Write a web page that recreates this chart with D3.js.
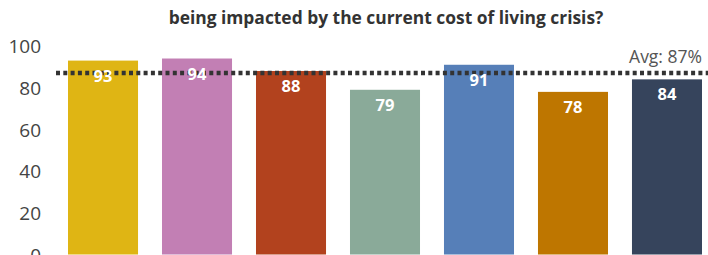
<!DOCTYPE html>
<html>
<head>
<meta charset="utf-8">
<script src="https://cdn.jsdelivr.net/npm/d3@7"></script>
<style>
  body { margin: 0; background: #fff; }
  svg text { font-family: "Open Sans", "Noto Sans", sans-serif; }
</style>
</head>
<body>
<div id="chart"></div>
<script>
var w = 708
var h = 255

// data
var categories = ['A', 'B', 'C', 'D', 'E', 'F', 'G']
var values = [93, 94, 88, 79, 91, 78, 84]
var colors = ['#dfb514', '#c27fb4', '#b2421e', '#8aaa99', '#567fb8', '#be7600', '#36445c']
var yTicks = [0, 20, 40, 60, 80, 100]
var avg = 87
var title = 'being impacted by the current cost of living crisis?'

var svg = d3.select('#chart')
  .append('svg')
  .attr('width', w)
  .attr('height', h)

var x = d3.scaleBand()
  .domain(categories)
  .range([68, 702])
  .paddingInner(0.255)
  .paddingOuter(0)

var y = d3.scaleLinear()
  .domain([0, 100])
  .range([254.5, 46])

// title (top line is cut off in the original)
svg.append('text')
  .attr('x', 386)
  .attr('y', 24)
  .attr('text-anchor', 'middle')
  .style('font-size', '17.4px')
  .style('font-weight', 'bold')
  .style('fill', '#333')
  .text(title)

// y axis labels
var yAxis = d3.axisLeft(y)
  .tickValues(yTicks)
  .tickSize(0)
  .tickPadding(0)

svg.append('g')
  .attr('transform', 'translate(41,0)')
  .call(yAxis)
  .call(g => g.select('.domain').remove())
  .selectAll('text')
  .style('font-size', '19px')
  .style('fill', '#444')
  .attr('dy', '0.36em')

// bars
svg.selectAll('.bar')
  .data(values)
  .enter()
  .append('rect')
  .attr('class', 'bar')
  .attr('x', (d, i) => x(categories[i]))
  .attr('y', d => y(d))
  .attr('width', x.bandwidth())
  .attr('height', d => y(0) - y(d))
  .style('fill', (d, i) => colors[i])

// average line
svg.append('line')
  .attr('x1', 56)
  .attr('x2', w)
  .attr('y1', y(avg))
  .attr('y2', y(avg))
  .attr('stroke', '#333')
  .attr('stroke-width', 4.5)
  .attr('stroke-dasharray', '4,3.3')

svg.append('text')
  .attr('x', 702)
  .attr('y', y(avg) - 10)
  .attr('text-anchor', 'end')
  .style('font-size', '17.5px')
  .style('fill', '#555')
  .text('Avg: ' + avg + '%')

// value labels
svg.selectAll('.val')
  .data(values)
  .enter()
  .append('text')
  .attr('class', 'val')
  .attr('x', (d, i) => x(categories[i]) + x.bandwidth() / 2)
  .attr('y', d => y(d) + 21)
  .attr('text-anchor', 'middle')
  .style('font-size', '16.5px')
  .style('font-weight', 'bold')
  .style('fill', '#fff')
  .text(d => d)
</script>
</body>
</html>
